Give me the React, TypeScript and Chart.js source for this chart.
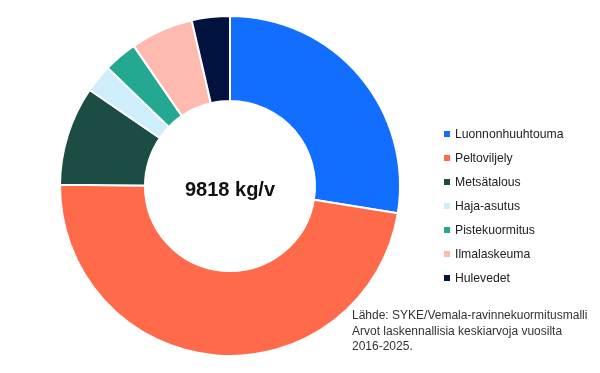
import React, { useEffect, useRef } from "react";
import { Chart, registerables } from "chart.js";

Chart.register(...registerables);

const labels = [
  "Luonnonhuuhtouma",
  "Peltoviljely",
  "Metsätalous",
  "Haja-asutus",
  "Pistekuormitus",
  "Ilmalaskeuma",
  "Hulevedet",
];
const values = [2707, 4667, 927, 263, 314, 585, 355];
const colors = ["#126EFF", "#FF6B4A", "#1B4D45", "#CDEEFA", "#25A891", "#FFBAB0", "#03133F"];
const totalLabel = "9818 kg/v";
const sourceLines = [
  "Lähde: SYKE/Vemala-ravinnekuormitusmalli",
  "Arvot laskennallisia keskiarvoja vuosilta",
  "2016-2025.",
];

const FONT = "'Liberation Sans', Arial, Helvetica, sans-serif";

export default function App() {
  const ref = useRef<HTMLCanvasElement>(null);
  useEffect(() => {
    if (!ref.current) return;
    const chart = new Chart(ref.current, {
      type: "doughnut",
      data: {
        labels,
        datasets: [
          {
            data: values,
            backgroundColor: colors,
            borderColor: "#ffffff",
            borderWidth: 2,
          },
        ],
      },
      options: {
        animation: false,
        responsive: false,
        maintainAspectRatio: false,
        cutout: "50%",
        layout: { padding: { left: 59, right: 199, top: 15, bottom: 16 } },
        plugins: {
          legend: { display: false },
          tooltip: { enabled: false },
        },
      },
    });
    return () => chart.destroy();
  }, []);

  return (
    <div style={{ position: "fixed", left: 0, top: 0, width: 600, height: 373, background: "#fff", fontFamily: FONT }}>
      <canvas ref={ref} width={600} height={373} style={{ position: "absolute", left: 0, top: 0, width: 600, height: 373 }} />
      <div
        style={{
          position: "absolute",
          left: 130,
          width: 200,
          top: 177,
          textAlign: "center",
          fontWeight: "bold",
          fontSize: 20,
          lineHeight: "24px",
          color: "#111",
        }}
      >
        {totalLabel}
      </div>
      <div style={{ position: "absolute", left: 444, top: 122 }}>
        {labels.map((l, i) => (
          <div key={l} style={{ display: "flex", alignItems: "center", height: 24, fontSize: 12.2, color: "#222" }}>
            <span style={{ display: "inline-block", width: 6, height: 6, background: colors[i], marginRight: 5 }} />
            <span>{l}</span>
          </div>
        ))}
      </div>
      <div style={{ position: "absolute", left: 352, top: 308, fontSize: 12, lineHeight: "15.5px", color: "#333" }}>
        {sourceLines.map((s) => (
          <div key={s}>{s}</div>
        ))}
      </div>
    </div>
  );
}
